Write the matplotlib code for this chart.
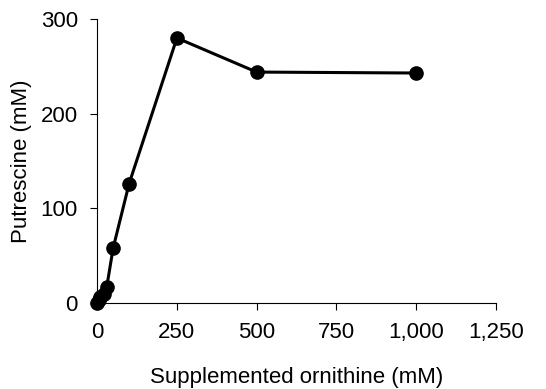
import matplotlib.pyplot as plt
from matplotlib.ticker import FuncFormatter

plt.rcParams['font.family'] = ['Liberation Sans', 'DejaVu Sans']

ornithine = [0, 5, 10, 20, 30, 50, 100, 250, 500, 1000]
putrescine = [0, 3, 6, 10, 17, 58, 126, 280, 244, 243]

fig = plt.figure(figsize=(5.46, 3.89), dpi=100)
ax = fig.add_axes([0.178, 0.221, 0.73, 0.73])

ax.plot(ornithine, putrescine, '-o', color='black', lw=2.2, markersize=9.5)

ax.set_xlim(0, 1250)
ax.set_ylim(0, 300)
ax.set_xticks([0, 250, 500, 750, 1000, 1250])
ax.set_yticks([0, 100, 200, 300])
ax.xaxis.set_major_formatter(FuncFormatter(lambda v, p: f'{int(v):,}'))
ax.spines['top'].set_visible(False)
ax.spines['right'].set_visible(False)
ax.tick_params(direction='out', length=5, labelsize=16, pad=9)
ax.set_xlabel('Supplemented ornithine (mM)', fontsize=16, labelpad=17)
ax.set_ylabel('Putrescine (mM)', fontsize=16, labelpad=6)
for line in ax.lines:
    line.set_clip_on(False)

fig.savefig('out.png', dpi=100)
